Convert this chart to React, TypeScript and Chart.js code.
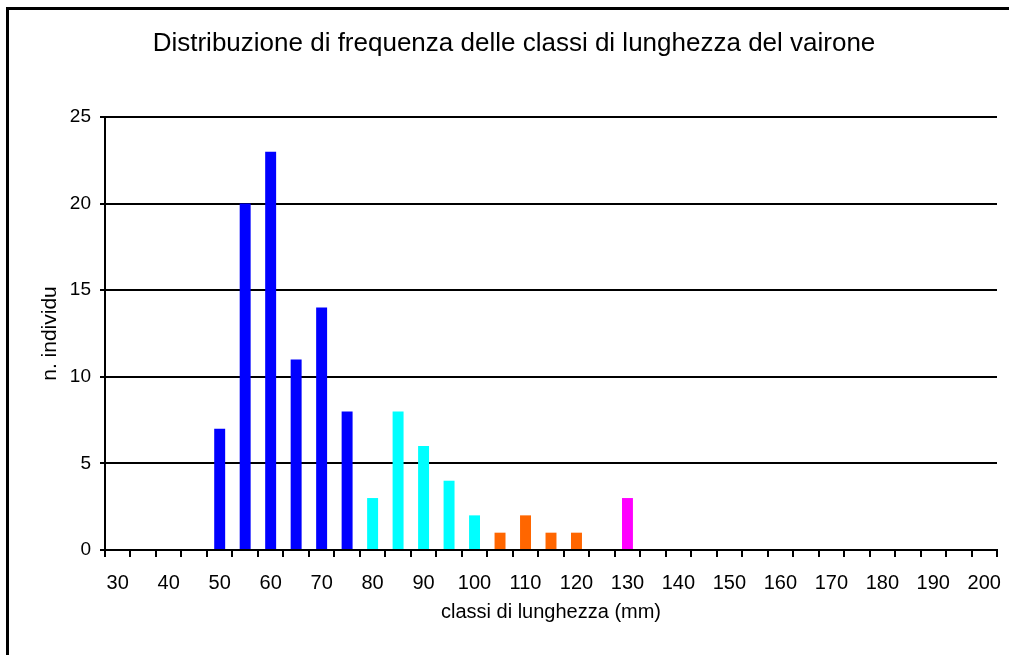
import React, { useEffect, useRef } from "react";
import { Chart, registerables } from "chart.js";

Chart.register(...registerables);

// length classes (mm)
const categories: number[] = [
  30, 35, 40, 45, 50, 55, 60, 65, 70, 75, 80, 85, 90, 95, 100, 105, 110, 115,
  120, 125, 130, 135, 140, 145, 150, 155, 160, 165, 170, 175, 180, 185, 190,
  195, 200,
];

// number of individuals per class
const counts: number[] = [
  0, 0, 0, 0, 7, 20, 23, 11, 14, 8, 3, 8, 6, 4, 2, 1, 2, 1, 1, 0, 3, 0, 0, 0,
  0, 0, 0, 0, 0, 0, 0, 0, 0, 0, 0,
];

// colour group of each class (0 blue, 1 cyan, 2 orange, 3 magenta)
const groups: number[] = [
  0, 0, 0, 0, 0, 0, 0, 0, 0, 0, 1, 1, 1, 1, 1, 2, 2, 2, 2, 2, 3, 3, 3, 3, 3, 3,
  3, 3, 3, 3, 3, 3, 3, 3, 3,
];

const groupColors: string[] = ["#0000FF", "#00FFFF", "#FF6600", "#FF00FF"];

const yTicks: number[] = [0, 5, 10, 15, 20, 25];

const titleText = "Distribuzione di frequenza delle classi di lunghezza del vairone";
const xTitle = "classi di lunghezza (mm)";
const yTitle = "n. individu";

const FONT = "'Liberation Sans', Arial, Helvetica, sans-serif";

export default function App() {
  const ref = useRef<HTMLCanvasElement | null>(null);

  useEffect(() => {
    if (!ref.current) return;
    Chart.defaults.font.family = FONT;
    Chart.defaults.color = "#000";
    const chart = new Chart(ref.current, {
      type: "bar",
      data: {
        labels: categories.map(String),
        datasets: [
          {
            data: counts,
            backgroundColor: groups.map((g) => groupColors[g]),
            borderWidth: 0,
            categoryPercentage: 1,
            barPercentage: 0.43,
          },
        ],
      },
      options: {
        responsive: false,
        animation: false,
        events: [],
        layout: { padding: { left: 31, right: 12, top: 0, bottom: 0 } },
        plugins: {
          legend: { display: false },
          tooltip: { enabled: false },
          title: {
            display: true,
            text: titleText,
            color: "#000",
            font: { size: 26, weight: "normal", family: FONT },
            padding: { top: 28.4, bottom: 57.4 },
          },
        },
        scales: {
          x: {
            offset: true,
            afterFit: (axis: any) => {
              axis.height = 105;
              axis.paddingLeft = 0;
              axis.paddingRight = 0;
            },
            grid: {
              display: true,
              offset: true,
              drawOnChartArea: false,
              drawTicks: true,
              tickLength: 7,
              color: "#000",
              lineWidth: 2,
            },
            border: { display: true, color: "#000", width: 2 },
            ticks: {
              autoSkip: false,
              maxRotation: 0,
              minRotation: 0,
              padding: 14,
              color: "#000",
              font: { size: 20, family: FONT },
              callback: (_v: any, i: number) =>
                categories[i] % 10 === 0 ? String(categories[i]) : "",
            },
            title: {
              display: true,
              text: xTitle,
              color: "#000",
              font: { size: 20, family: FONT },
              padding: { top: 0, bottom: 31 },
            },
          },
          y: {
            min: yTicks[0],
            max: yTicks[yTicks.length - 1],
            afterFit: (axis: any) => {
              axis.width = 74;
            },
            afterBuildTicks: (axis: any) => {
              axis.ticks = yTicks.map((v) => ({ value: v }));
            },
            grid: {
              display: true,
              drawOnChartArea: true,
              drawTicks: true,
              tickLength: 5,
              color: "#000",
              lineWidth: 2,
            },
            border: { display: true, color: "#000", width: 2 },
            ticks: {
              padding: 9,
              color: "#000",
              font: { size: 19, family: FONT },
            },
            title: {
              display: true,
              text: yTitle,
              color: "#000",
              font: { size: 21, family: FONT },
              padding: { top: 6.5, bottom: 0 },
            },
          },
        },
      },
    });
    return () => chart.destroy();
  }, []);

  return (
    <div
      style={{
        position: "fixed",
        left: 0,
        top: 0,
        width: 1009,
        height: 655,
        overflow: "hidden",
        background: "#fff",
      }}
    >
      <div
        style={{
          position: "absolute",
          left: 6,
          top: 7,
          width: 1100,
          height: 800,
          border: "3px solid #000",
          boxSizing: "border-box",
        }}
      />
      <canvas
        ref={ref}
        width={1009}
        height={655}
        style={{ position: "absolute", left: 0, top: 0, width: 1009, height: 655 }}
      />
    </div>
  );
}
